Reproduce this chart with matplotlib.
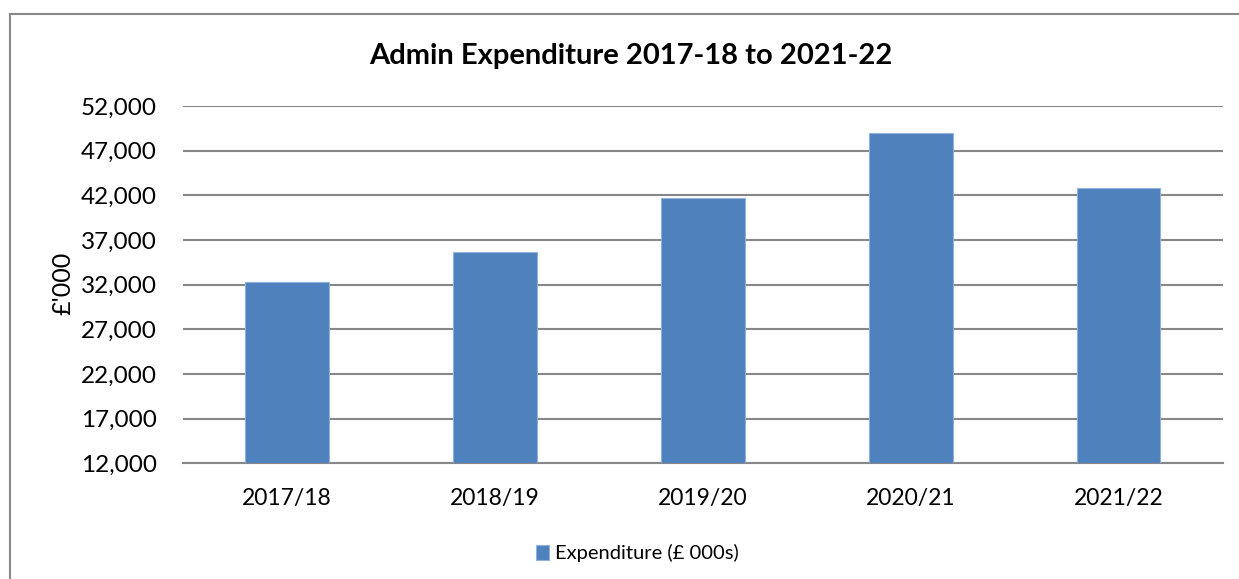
import matplotlib.pyplot as plt
from matplotlib.patches import Rectangle

# data
years = ['2017/18', '2018/19', '2019/20', '2020/21', '2021/22']
expenditure = [32330, 35690, 41730, 48940, 42790]
yticks = [12000, 17000, 22000, 27000, 32000, 37000, 42000, 47000, 52000]

plt.rcParams['font.family'] = ['Lato', 'DejaVu Sans']

fig = plt.figure(figsize=(12.39, 5.79), dpi=100)
ax = fig.add_axes([0.1477, 0.1998, 0.987 - 0.1477, 0.8169 - 0.1998])

x = range(len(years))
ax.bar(x, [v - yticks[0] for v in expenditure], bottom=yticks[0], width=0.4,
       color='#4F81BD', edgecolor='#8FB0DA', linewidth=0.8, zorder=3,
       label='Expenditure (£ 000s)')

ax.set_ylim(yticks[0], yticks[-1])
ax.set_xlim(-0.5, len(years) - 0.5)
ax.set_yticks(yticks)
ax.set_yticklabels([f'{v:,}' for v in yticks])
ax.set_xticks(list(x))
ax.set_xticklabels(years)
ax.tick_params(axis='y', length=0, labelsize=17.5, pad=19)
ax.tick_params(axis='x', length=0, labelsize=16.5, pad=18)

ax.grid(axis='y', color='#878787', linewidth=1.5, zorder=0)
for s in ['top', 'right', 'left']:
    ax.spines[s].set_visible(False)
ax.spines['bottom'].set_color('#878787')
ax.spines['bottom'].set_linewidth(1.5)

ax.set_ylabel("£'000", fontsize=18)
ax.yaxis.set_label_coords(-0.104, 0.505)
fig.text(631 / 1239, 1 - 56 / 579, 'Admin Expenditure 2017-18 to 2021-22',
         ha='center', va='center', fontsize=21, fontweight='bold')

ax.legend(loc='center', bbox_to_anchor=(0.437, -0.252), frameon=False,
          fontsize=14.5, handlelength=0.62, handleheight=0.75, handletextpad=0.3)

# outer chart border (top and left visible in the crop)
fig.patches.append(Rectangle((10 / 1239, -0.1), 1.5, 1.1 - 14 / 579,
                             transform=fig.transFigure, fill=False,
                             edgecolor='#878787', linewidth=1.5))

fig.savefig('out.png', dpi=100)
